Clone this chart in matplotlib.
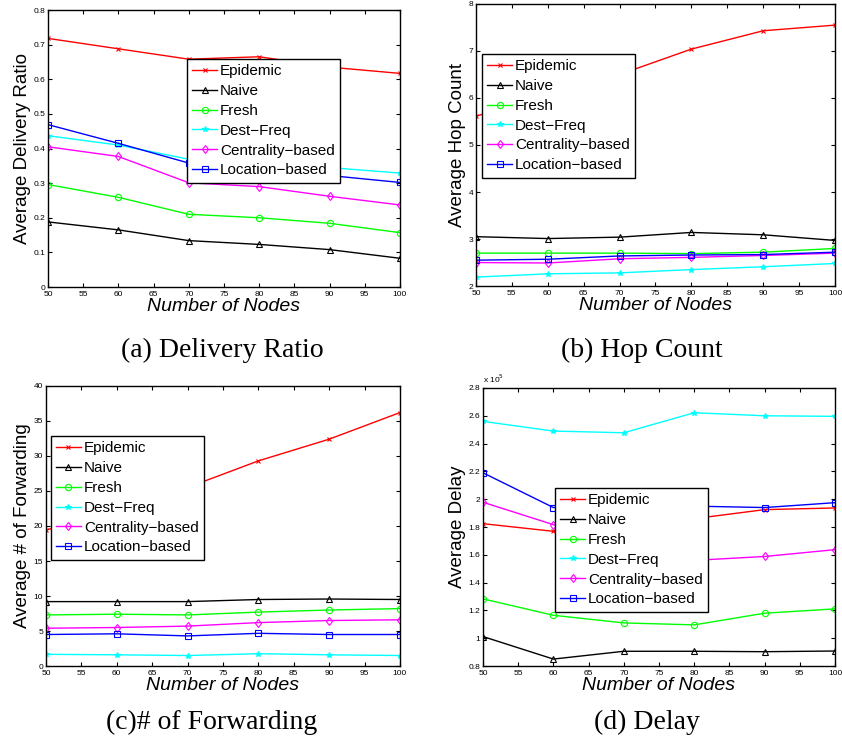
import matplotlib
matplotlib.use('Agg')
import matplotlib.pyplot as plt
from matplotlib.ticker import FormatStrFormatter, MultipleLocator

# number of nodes
nodes = [50, 60, 70, 80, 90, 100]
schemes = ['Epidemic', 'Naive', 'Fresh', 'Dest\u2212Freq', 'Centrality\u2212based', 'Location\u2212based']

# (a) delivery ratio
ratio_epidemic = [0.718, 0.688, 0.658, 0.665, 0.635, 0.617]
ratio_naive = [0.188, 0.165, 0.134, 0.123, 0.108, 0.083]
ratio_fresh = [0.296, 0.259, 0.210, 0.200, 0.184, 0.157]
ratio_destfreq = [0.437, 0.410, 0.369, 0.357, 0.345, 0.329]
ratio_central = [0.405, 0.377, 0.301, 0.290, 0.262, 0.237]
ratio_location = [0.469, 0.415, 0.358, 0.337, 0.322, 0.302]

# (b) hop count
hop_epidemic = [5.61, 6.10, 6.50, 7.04, 7.43, 7.55]
hop_naive = [3.05, 3.01, 3.04, 3.14, 3.09, 2.97]
hop_fresh = [2.70, 2.70, 2.70, 2.69, 2.72, 2.80]
hop_destfreq = [2.19, 2.26, 2.28, 2.35, 2.41, 2.48]
hop_central = [2.50, 2.49, 2.58, 2.61, 2.65, 2.70]
hop_location = [2.55, 2.57, 2.64, 2.66, 2.67, 2.72]

# (c) number of forwardings
fwd_epidemic = [19.4, 22.5, 25.5, 29.3, 32.4, 36.2]
fwd_naive = [9.2, 9.2, 9.2, 9.5, 9.57, 9.5]
fwd_fresh = [7.3, 7.4, 7.3, 7.7, 8.0, 8.2]
fwd_destfreq = [1.67, 1.6, 1.5, 1.76, 1.6, 1.5]
fwd_central = [5.4, 5.5, 5.7, 6.2, 6.5, 6.6]
fwd_location = [4.5, 4.6, 4.3, 4.67, 4.5, 4.5]

# (d) delay, in units of 1e5
delay_epidemic = [1.824, 1.769, 1.80, 1.86, 1.925, 1.937]
delay_naive = [1.012, 0.850, 0.906, 0.906, 0.903, 0.908]
delay_fresh = [1.283, 1.165, 1.110, 1.096, 1.180, 1.211]
delay_destfreq = [2.56, 2.49, 2.478, 2.622, 2.60, 2.596]
delay_central = [1.978, 1.817, 1.60, 1.56, 1.588, 1.637]
delay_location = [2.19, 1.94, 1.95, 1.95, 1.94, 1.975]

styles = [('#ff0000', 'x'), ('#000000', '^'), ('#00ff00', 'o'),
	('#00ffff', '*'), ('#ff00ff', 'd'), ('#0000ff', 's')]

plt.rcParams['font.family'] = ['Liberation Sans', 'DejaVu Sans']

fig = plt.figure(figsize=(8.42, 7.48), dpi=100)


def panel(rect, series, ylabel, ylim, ystep, leg_anchor, caption, cap_xy):
	ax = fig.add_axes(rect)
	for (col, mk), vals, name in zip(styles, series, schemes):
		ms = {'x': 3.5, '*': 4.0}.get(mk, 4.5)
		ax.plot(nodes, vals, color=col, marker=mk, markersize=ms,
			markerfacecolor='none' if mk not in ('x', '*') else col,
			linewidth=1.0, markeredgewidth=0.8, label=name)
	ax.set_xlim(50, 100)
	ax.set_ylim(ylim)
	ax.xaxis.set_major_locator(MultipleLocator(5))
	ax.yaxis.set_major_locator(MultipleLocator(ystep))
	ax.yaxis.set_major_formatter(FormatStrFormatter('%g'))
	ax.tick_params(direction='in', top=True, right=True, labelsize=6, length=3, pad=2)
	ax.tick_params(axis='x', pad=3)
	for sp in ax.spines.values():
		sp.set_linewidth(1.0)
	ax.set_xlabel('Number of Nodes', fontsize=14, style='italic', labelpad=0)
	ax.set_ylabel(ylabel, fontsize=13.5, labelpad=2)
	leg = ax.legend(loc='upper left', bbox_to_anchor=leg_anchor, borderaxespad=0,
		fontsize=11, labelspacing=0.38, handlelength=1.6, handletextpad=0.2,
		borderpad=0.35, fancybox=False, framealpha=1, edgecolor='k')
	leg.get_frame().set_linewidth(1.0)
	fig.text(cap_xy[0], cap_xy[1], caption, ha='center', va='center',
		fontsize=20, family='Liberation Serif')
	return ax


panel([0.057, 0.6163, 0.418, 0.3703],
	[ratio_epidemic, ratio_naive, ratio_fresh, ratio_destfreq, ratio_central, ratio_location],
	'Average Delivery Ratio', (0, 0.8), 0.1, (0.395, 0.823),
	'(a) Delivery Ratio', (222 / 842, 1 - 350 / 748))

panel([0.5653, 0.6176, 0.4264, 0.3771],
	[hop_epidemic, hop_naive, hop_fresh, hop_destfreq, hop_central, hop_location],
	'Average Hop Count', (2, 8), 1, (0.017, 0.823),
	'(b) Hop Count', (642 / 842, 1 - 350 / 748))

panel([0.0546, 0.1096, 0.4204, 0.3744],
	[fwd_epidemic, fwd_naive, fwd_fresh, fwd_destfreq, fwd_central, fwd_location],
	'Average # of Forwarding', (0, 40), 5, (0.014, 0.821),
	'(c)# of Forwarding', (212 / 842, 1 - 722 / 748))

axd = panel([0.5736, 0.1096, 0.4181, 0.3717],
	[delay_epidemic, delay_naive, delay_fresh, delay_destfreq, delay_central, delay_location],
	'Average Delay', (0.8, 2.8), 0.2, (0.205, 0.64),
	'(d) Delay', (647 / 842, 1 - 722 / 748))
axd.text(0.0, 1.01, 'x 10$^5$', transform=axd.transAxes, fontsize=6, va='bottom', ha='left')

fig.savefig('out.png', dpi=100)
